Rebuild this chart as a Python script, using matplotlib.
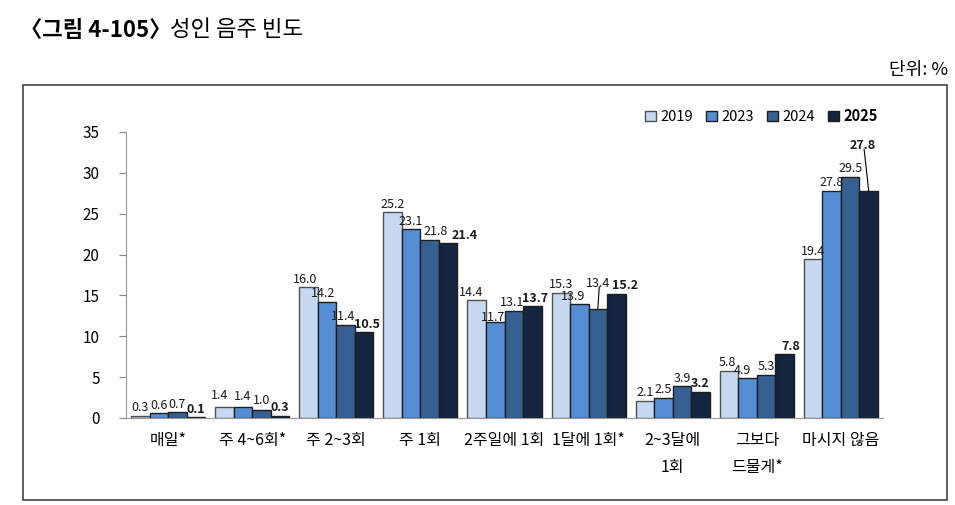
import matplotlib
matplotlib.use("Agg")
import matplotlib.pyplot as plt
from matplotlib.patches import Rectangle
import numpy as np

plt.rcParams['font.family'] = ['Noto Sans CJK KR', 'DejaVu Sans']

categories = ["매일*", "주 4~6회*", "주 2~3회", "주 1회", "2주일에 1회", "1달에 1회*",
              "2~3달에\n1회", "그보다\n드물게*", "마시지 않음"]
years = ["2019", "2023", "2024", "2025"]
v2019 = [0.3, 1.4, 16.0, 25.2, 14.4, 15.3, 2.1, 5.8, 19.4]
v2023 = [0.6, 1.4, 14.2, 23.1, 11.7, 13.9, 2.5, 4.9, 27.8]
v2024 = [0.7, 1.0, 11.4, 21.8, 13.1, 13.4, 3.9, 5.3, 29.5]
v2025 = [0.1, 0.3, 10.5, 21.4, 13.7, 15.2, 3.2, 7.8, 27.8]
yticks = [0, 5, 10, 15, 20, 25, 30, 35]

series = [v2019, v2023, v2024, v2025]
colors = ["#C6D9F1", "#558ED5", "#376092", "#13253F"]
edges = ["#505050", "#1E1E1E", "#1E1E1E", "#1E1E1E"]

fig = plt.figure(figsize=(9.55, 5.05), dpi=100)
ax = fig.add_axes([126/955, 1 - 418/505, (883-126)/955, (418-132)/505])

x = np.arange(len(categories))
w = 0.22
offsets = [-1.5, -0.5, 0.5, 1.5]
PX = 0.72  # points per pixel at 100 dpi
# label nudges in pixels (series index, category index): (dx, dy)
nudge = {(0, 2): (-3, 0), (1, 2): (-4, 0), (2, 2): (-2, 0), (3, 2): (3, 0),
         (2, 3): (6, 0), (3, 3): (17, 0),
         (0, 4): (-6, 0), (1, 4): (-2, -3), (2, 4): (-2, 0), (3, 4): (3, 0),
         (1, 5): (-6, 0), (3, 5): (9, 0),
         (0, 7): (-2, 0), (1, 7): (-5, -1), (3, 7): (6, 0),
         (0, 1): (-5, 3), (1, 1): (0, 2), (2, 1): (0, 1)}
leader = {(2, 5): (0, 19), (3, 8): (-6, 39)}

for si, (vals, col) in enumerate(zip(series, colors)):
    xs = x + offsets[si] * w
    ax.bar(xs, vals, width=w, color=col, edgecolor=edges[si], linewidth=1.0,
           label=years[si], zorder=2)
    for ci, (xx, v) in enumerate(zip(xs, vals)):
        if (si, ci) in leader:
            dx, dy = leader[(si, ci)]
        else:
            dx, dy = nudge.get((si, ci), (0, 0))
            dy += 1.5
        ax.annotate(f"{v:.1f}", xy=(xx, v), xytext=(dx * PX, dy * PX),
                    textcoords="offset points", ha="center", va="bottom", fontsize=9,
                    fontweight="bold" if si == 3 else "normal", color="#1a1a1a")
        if (si, ci) in leader:
            ax.annotate("", xy=(xx, v), xytext=(dx * PX + 1, dy * PX + 2),
                        textcoords="offset points",
                        arrowprops=dict(arrowstyle="-", color="black", lw=0.8,
                                        shrinkA=0, shrinkB=0))

ax.set_xlim(-0.5, len(categories) - 0.5)
ax.set_ylim(0, 35)
ax.set_yticks(yticks)
ax.set_yticklabels([str(t) for t in yticks], fontsize=11)
ax.set_xticks(x)
ax.set_xticklabels(categories, fontsize=11.5, linespacing=1.75, va="top")
ax.tick_params(axis="x", length=0, pad=10)
ax.tick_params(axis="y", length=5, color="#888888", pad=14, direction="out")
for s in ["top", "right"]:
    ax.spines[s].set_visible(False)
ax.spines["left"].set_color("#999999")
ax.spines["bottom"].set_color("#999999")

leg = ax.legend(loc="center right", bbox_to_anchor=((878-126)/757, 1 + 16/286), ncol=4,
                frameon=False, fontsize=10.5, handlelength=0.75, handleheight=0.75,
                handletextpad=0.3, columnspacing=0.9, borderpad=0, borderaxespad=0)
for t in leg.get_texts():
    if t.get_text() == "2025":
        t.set_fontweight("bold")

fig.patches.append(Rectangle((23/955, 1 - 500/505), (947-23)/955, (500-85)/505,
                             transform=fig.transFigure, fill=False,
                             edgecolor="#444444", linewidth=1.2))

fig.text(20/955, 1 - 30/505, "〈그림 4-105〉", fontsize=16, fontweight="bold",
         va="center", ha="left")
fig.text(170/955, 1 - 30/505, "성인 음주 빈도", fontsize=16, va="center", ha="left")
fig.text(948/955, 1 - 70/505, "단위: %", fontsize=13, va="center", ha="right")

fig.savefig("out.png", dpi=100)
